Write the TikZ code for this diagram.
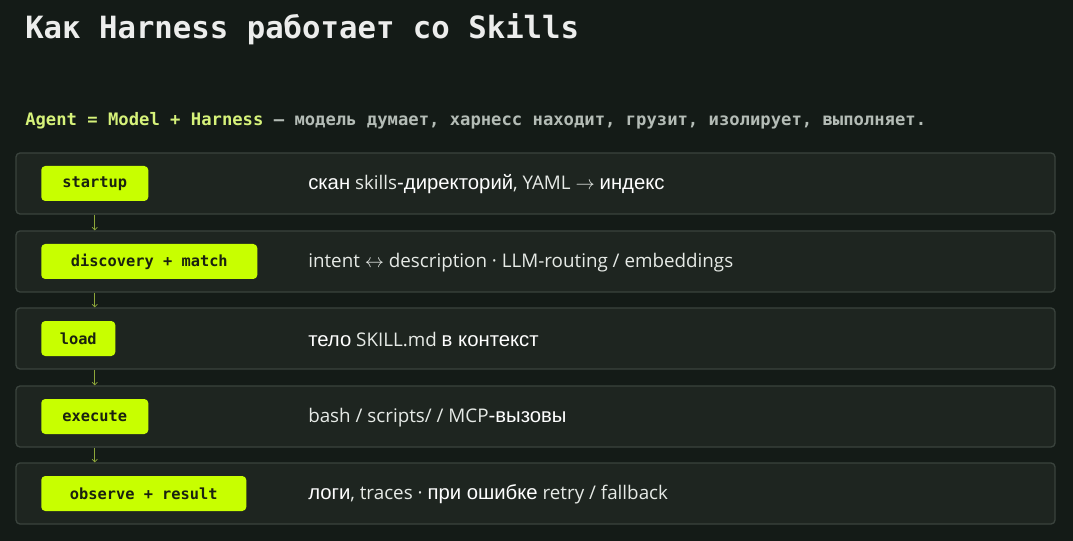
\documentclass[tikz,border=0pt]{standalone}
\usepackage{fontspec}
\setmainfont{Open Sans}
\newfontfamily\rufont[Scale=1.08]{Liberation Sans}
\newfontfamily\codefont{DejaVu Sans Mono}
\usetikzlibrary{arrows.meta}
\definecolor{bgdark}{HTML}{141B17}
\definecolor{rowfill}{HTML}{1E2520}
\definecolor{rowline}{HTML}{3A433D}
\definecolor{lime}{HTML}{C8FF00}
\definecolor{limetext}{HTML}{1A2210}
\definecolor{softlime}{HTML}{D6F27A}
\definecolor{greytext}{HTML}{B4BCB6}
\definecolor{desctext}{HTML}{E6EAE6}
\definecolor{arrowgreen}{HTML}{8DA63A}
\newcommand{\ru}[1]{{\rufont\color{white!96!desctext} #1}}
\begin{document}
\begin{tikzpicture}[x=0.75pt,y=-0.75pt,
    rowbox/.style={draw=rowline, line width=1pt, fill=rowfill, rounded corners=3pt,
        minimum width=1039*0.75pt, minimum height=61*0.75pt, inner sep=0pt},
    pill/.style={fill=lime, rounded corners=3pt, minimum height=35*0.75pt, inner sep=0pt,
        text=limetext, font=\codefont\bfseries\fontsize{11.5}{13}\selectfont, anchor=west},
    desc/.style={anchor=west, inner sep=0pt, text=desctext,
        font=\fontsize{14.1}{17}\selectfont},
    flow/.style={draw=arrowgreen, line width=0.5pt, -{Straight Barb[length=2pt,width=4pt]}}]
    \useasboundingbox[fill=bgdark] (0,0) rectangle (1073,541);
    % title
    \node[anchor=west, inner sep=0pt, text=white!92!bgdark,
        font=\codefont\bfseries\fontsize{23}{26}\selectfont] (title) at (25,29)
        {Как Harness работает со Skills};
    \node[anchor=west, inner sep=0pt, font=\codefont\bfseries\fontsize{12.9}{15}\selectfont]
        (sub) at (25,121) {\textcolor{softlime}{Agent = Model + Harness}
        \textcolor{greytext}{— модель думает, харнесс находит, грузит, изолирует, выполняет.}};
    % rows
    \node[rowbox] (row1) at (535.5,183.5) {};
    \node[rowbox] (row2) at (535.5,261.5) {};
    \node[rowbox] (row3) at (535.5,338.5) {};
    \node[rowbox] (row4) at (535.5,416.5) {};
    \node[rowbox] (row5) at (535.5,493.5) {};
    % stages
    \node[pill, minimum width=107*0.75pt] (startup) at (41,183.5) {startup};
    \node[pill, minimum width=216*0.75pt] (match) at (41,261.5) {discovery + match};
    \node[pill, minimum width=74*0.75pt] (load) at (41,338.5) {load};
    \node[pill, minimum width=107*0.75pt] (execute) at (41,416.5) {execute};
    \node[pill, minimum width=205*0.75pt] (observe) at (41,493.5) {observe + result};
    % descriptions
    \node[desc] (d1) at (308,184.5) {\ru{скан} skills\ru{-директорий}, YAML $\rightarrow$ \ru{индекс}};
    \node[desc] (d2) at (308,262.5) {intent $\leftrightarrow$ description · LLM-routing / embeddings};
    \node[desc] (d3) at (308,339.5) {\ru{тело} SKILL.md \ru{в контекст}};
    \node[desc] (d4) at (308,417.5) {bash / scripts/ / MCP\ru{-вызовы}};
    \node[desc] (d5) at (308,494.5) {\ru{логи}, traces · \ru{при ошибке} retry / fallback};
    % connectors
    \draw[flow] (startup.center |- row1.south) -- (startup.center |- row2.north);
    \draw[flow] (startup.center |- row2.south) -- (startup.center |- row3.north);
    \draw[flow] (startup.center |- row3.south) -- (startup.center |- row4.north);
    \draw[flow] (startup.center |- row4.south) -- (startup.center |- row5.north);
\end{tikzpicture}
\end{document}
